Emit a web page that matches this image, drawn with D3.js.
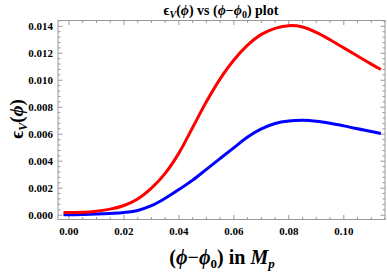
<!DOCTYPE html>
<html><head><meta charset="utf-8">
<script src="https://cdn.jsdelivr.net/npm/d3@7"></script>
<style>body{margin:0;background:#fff}svg{display:block}</style>
</head><body>
<script>
const xValues = [-0.002,0.005,0.01,0.015,0.02,0.025,0.03,0.035,0.04,0.045,0.05,0.055,0.06,0.065,0.07,0.075,0.08,0.085,0.09,0.095,0.1,0.105,0.11,0.1135];
const redValues = [0.0002,0.00022,0.0003,0.00045,0.00072,0.0012,0.002,0.0031,0.0046,0.0065,0.0084,0.0101,0.0115,0.0126,0.0134,0.01385,0.01405,0.01395,0.01355,0.013,0.0124,0.0118,0.0112,0.0108];
const blueValues = [0.00003,0.00005,0.00008,0.00013,0.0002,0.00035,0.0007,0.00125,0.0019,0.0026,0.0034,0.0042,0.005,0.0058,0.0064,0.0068,0.00698,0.00703,0.00697,0.00682,0.00662,0.0064,0.0062,0.00605];
const xTicks = [0,0.02,0.04,0.06,0.08,0.10];
const xTickLabels = ["0.00","0.02","0.04","0.06","0.08","0.10"];
const yTicks = [0,0.002,0.004,0.006,0.008,0.010,0.012,0.014];
const yTickLabels = ["0.000","0.002","0.004","0.006","0.008","0.010","0.012","0.014"];

const W=387,H=272, L=58, R=385, T=20.5, B=219.5;
const svg=d3.select("body").append("svg").attr("width",W).attr("height",H);
const x=d3.scaleLinear().domain([-0.004,0.115]).range([L,R]);
const y=d3.scaleLinear().domain([-0.00032,0.01443]).range([B,T]);
const font="'Liberation Serif','Times New Roman',serif";
const frameCol="#999";

const xMinor=d3.range(0,0.1151,0.005).filter(v=>Math.abs(v/0.02-Math.round(v/0.02))>1e-6);
const yMinor=d3.range(0,0.01441,0.0004).filter(v=>Math.abs(v/0.002-Math.round(v/0.002))>1e-6);

const g=svg.append("g");
g.append("rect").attr("x",L).attr("y",T).attr("width",R-L).attr("height",B-T)
 .attr("fill","none").attr("stroke",frameCol).attr("stroke-width",1);

function tickLines(vals, len, col){
  vals.forEach(v=>{
    const px=x(v);
    g.append("line").attr("x1",px).attr("x2",px).attr("y1",B).attr("y2",B-len).attr("stroke",col);
    g.append("line").attr("x1",px).attr("x2",px).attr("y1",T).attr("y2",T+len).attr("stroke",col);
  });
}
function tickLinesY(vals,len,col){
  vals.forEach(v=>{
    const py=y(v);
    g.append("line").attr("y1",py).attr("y2",py).attr("x1",L).attr("x2",L+len).attr("stroke",col);
    g.append("line").attr("y1",py).attr("y2",py).attr("x1",R).attr("x2",R-len).attr("stroke",col);
  });
}
tickLines(xTicks,4.5,frameCol); tickLines(xMinor,2.5,frameCol);
tickLinesY(yTicks,4.5,frameCol); tickLinesY(yMinor,2.5,frameCol);

xTicks.forEach((v,i)=>{
  svg.append("text").attr("x",x(v)).attr("y",235).attr("text-anchor","middle")
   .attr("font-family",font).attr("font-weight","bold").attr("font-size",11).text(xTickLabels[i]);
});
yTicks.forEach((v,i)=>{
  svg.append("text").attr("x",53).attr("y",y(v)+4).attr("text-anchor","end")
   .attr("font-family",font).attr("font-weight","bold").attr("font-size",11).text(yTickLabels[i]);
});

const line=d3.line().x(d=>x(d[0])).y(d=>y(d[1])).curve(d3.curveCatmullRom.alpha(0.5));
svg.append("path").datum(xValues.map((v,i)=>[v,blueValues[i]])).attr("d",line)
 .attr("fill","none").attr("stroke","#0000ff").attr("stroke-width",3);
svg.append("path").datum(xValues.map((v,i)=>[v,redValues[i]])).attr("d",line)
 .attr("fill","none").attr("stroke","#ff0000").attr("stroke-width",3);

const title=svg.append("text").attr("x",221).attr("y",15).attr("text-anchor","middle")
 .attr("font-family",font).attr("font-weight","bold").attr("font-size",14);
title.append("tspan").text("ϵ");
title.append("tspan").attr("font-style","italic").attr("font-size",10).attr("dy",3).text("V");
title.append("tspan").attr("dy",-3).text("(");
title.append("tspan").attr("font-style","italic").text("ϕ");
title.append("tspan").text(") vs  (");
title.append("tspan").attr("font-style","italic").text("ϕ");
title.append("tspan").text("−");
title.append("tspan").attr("font-style","italic").text("ϕ");
title.append("tspan").attr("font-size",10).attr("dy",3).text("0");
title.append("tspan").attr("dy",-3).text(") plot");

const xl=svg.append("text").attr("x",222).attr("y",264).attr("text-anchor","middle")
 .attr("font-family",font).attr("font-weight","bold").attr("font-size",20);
xl.append("tspan").text("(");
xl.append("tspan").attr("font-style","italic").text("ϕ");
xl.append("tspan").text("−");
xl.append("tspan").attr("font-style","italic").text("ϕ");
xl.append("tspan").attr("font-size",13).attr("dy",4).text("0");
xl.append("tspan").attr("dy",-4).text(") in ");
xl.append("tspan").attr("font-style","italic").text("M");
xl.append("tspan").attr("font-style","italic").attr("font-size",13).attr("dy",4).text("p");

const yl=svg.append("text").attr("transform","translate(23,119) rotate(-90)").attr("text-anchor","middle")
 .attr("font-family",font).attr("font-weight","bold").attr("font-size",19);
yl.append("tspan").text("ϵ");
yl.append("tspan").attr("font-style","italic").attr("font-size",12).attr("dy",4).text("V");
yl.append("tspan").attr("dy",-4).text("(");
yl.append("tspan").attr("font-style","italic").text("ϕ");
yl.append("tspan").text(")");
</script>
</body></html>
